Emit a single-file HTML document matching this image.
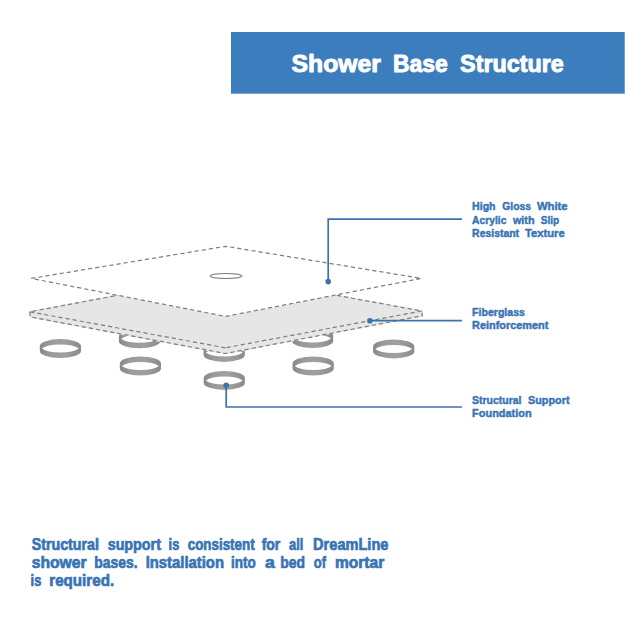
<!DOCTYPE html>
<html><head><meta charset="utf-8"><title>Shower Base Structure</title>
<style>
html,body{margin:0;padding:0;background:#fff;}
body{width:625px;height:625px;overflow:hidden;}
svg{display:block;}
text{font-family:"Liberation Sans",sans-serif;font-weight:bold;}
</style></head><body>
<svg width="625" height="625" viewBox="0 0 625 625">
<defs>
<linearGradient id="rg" x1="0" y1="0" x2="1" y2="0">
<stop offset="0" stop-color="#888888"/><stop offset="0.25" stop-color="#9a9a9a"/><stop offset="0.6" stop-color="#a0a0a0"/><stop offset="1" stop-color="#8a8a8a"/>
</linearGradient>
</defs>
<rect width="625" height="625" fill="#fff"/>
<rect x="231" y="32" width="393" height="61.7" fill="#3c7dbe"/>
<rect x="624" y="32" width="1" height="61.7" fill="#6a9dd2"/>
<text x="291.6" y="72.1" font-size="23" fill="#fff" stroke="#fff" stroke-width="0.9" stroke-linejoin="round" textLength="89.3" lengthAdjust="spacingAndGlyphs">Shower</text>
<text x="393.1" y="72.1" font-size="23" fill="#fff" stroke="#fff" stroke-width="0.9" stroke-linejoin="round" textLength="54.7" lengthAdjust="spacingAndGlyphs">Base</text>
<text x="460.1" y="72.1" font-size="23" fill="#fff" stroke="#fff" stroke-width="0.9" stroke-linejoin="round" textLength="103.6" lengthAdjust="spacingAndGlyphs">Structure</text>
<path d="M118.90,336.20 A20.6,7.0 0 0 1 160.10,336.20 L160.10,341.20 A20.6,7.0 0 0 1 118.90,341.20 Z M121.04,338.70 A20.0,6.5 0 0 1 157.96,338.70 A20.0,6.5 0 0 1 121.04,338.70 Z" fill="url(#rg)" fill-rule="evenodd"/>
<path d="M203.60,349.90 A20.6,7.0 0 0 1 244.80,349.90 L244.80,354.90 A20.6,7.0 0 0 1 203.60,354.90 Z M205.74,352.40 A20.0,6.5 0 0 1 242.66,352.40 A20.0,6.5 0 0 1 205.74,352.40 Z" fill="url(#rg)" fill-rule="evenodd"/>
<path d="M292.00,336.00 A20.6,7.0 0 0 1 333.20,336.00 L333.20,341.00 A20.6,7.0 0 0 1 292.00,341.00 Z M294.14,338.50 A20.0,6.5 0 0 1 331.06,338.50 A20.0,6.5 0 0 1 294.14,338.50 Z" fill="url(#rg)" fill-rule="evenodd"/>
<polygon points="29.8,311.8 225.8,275.0 421.8,311.0 422.4,315.8 225.4,353.5 30.2,316.9" fill="#e6e6e6" stroke="#e6e6e6" stroke-width="1.5" stroke-linejoin="round"/>
<g fill="none" stroke="#7d7d7d" stroke-width="1.2" stroke-dasharray="4.2 3">
<polyline points="225.4,347.8 29.8,311.8 225.8,275.0 421.8,311.0 225.4,347.8"/>
<polyline points="29.8,311.8 30.2,316.9 225.4,353.5 422.4,315.8 421.8,311.0"/>
</g>
<polygon points="31.2,278.4 225.7,246.3 421.2,278.4 225.7,316.4" fill="#fff" stroke="#7d7d7d" stroke-width="1.2" stroke-dasharray="4.2 3"/>
<ellipse cx="226" cy="276" rx="15.8" ry="2.5" fill="#fff" stroke="#808080" stroke-width="1.1"/>
<path d="M39.80,346.10 A20.6,7.0 0 0 1 81.00,346.10 L81.00,351.10 A20.6,7.0 0 0 1 39.80,351.10 Z M41.94,348.60 A20.0,6.5 0 0 1 78.86,348.60 A20.0,6.5 0 0 1 41.94,348.60 Z" fill="url(#rg)" fill-rule="evenodd"/>
<path d="M119.80,363.50 A20.6,7.0 0 0 1 161.00,363.50 L161.00,368.50 A20.6,7.0 0 0 1 119.80,368.50 Z M121.94,366.00 A20.0,6.5 0 0 1 158.86,366.00 A20.0,6.5 0 0 1 121.94,366.00 Z" fill="url(#rg)" fill-rule="evenodd"/>
<path d="M203.70,377.90 A20.6,7.0 0 0 1 244.90,377.90 L244.90,382.90 A20.6,7.0 0 0 1 203.70,382.90 Z M205.84,380.40 A20.0,6.5 0 0 1 242.76,380.40 A20.0,6.5 0 0 1 205.84,380.40 Z" fill="url(#rg)" fill-rule="evenodd"/>
<path d="M292.60,363.50 A20.6,7.0 0 0 1 333.80,363.50 L333.80,368.50 A20.6,7.0 0 0 1 292.60,368.50 Z M294.74,366.00 A20.0,6.5 0 0 1 331.66,366.00 A20.0,6.5 0 0 1 294.74,366.00 Z" fill="url(#rg)" fill-rule="evenodd"/>
<path d="M373.10,346.40 A20.6,7.0 0 0 1 414.30,346.40 L414.30,351.40 A20.6,7.0 0 0 1 373.10,351.40 Z M375.24,348.90 A20.0,6.5 0 0 1 412.16,348.90 A20.0,6.5 0 0 1 375.24,348.90 Z" fill="url(#rg)" fill-rule="evenodd"/>
<g fill="none" stroke="#3a73ae" stroke-width="1.7">
<polyline points="328.2,281.6 328.2,219.1 462,219.1"/>
<polyline points="369.9,320.7 462,320.7"/>
<polyline points="226.2,385.2 226.2,407 462,407"/>
</g>
<circle cx="328.2" cy="281.6" r="2.8" fill="#3a73ae"/>
<circle cx="369.9" cy="320.7" r="2.8" fill="#3a73ae"/>
<circle cx="226.2" cy="385.2" r="2.8" fill="#3a73ae"/>
<text x="472.1" y="210.4" font-size="11" fill="#3874b4" stroke="#3874b4" stroke-width="0.45" stroke-linejoin="round" textLength="23.5" lengthAdjust="spacingAndGlyphs">High</text>
<text x="502.3" y="210.4" font-size="11" fill="#3874b4" stroke="#3874b4" stroke-width="0.45" stroke-linejoin="round" textLength="28.8" lengthAdjust="spacingAndGlyphs">Gloss</text>
<text x="536.9" y="210.4" font-size="11" fill="#3874b4" stroke="#3874b4" stroke-width="0.45" stroke-linejoin="round" textLength="30.7" lengthAdjust="spacingAndGlyphs">White</text>
<text x="472.1" y="223.6" font-size="11" fill="#3874b4" stroke="#3874b4" stroke-width="0.45" stroke-linejoin="round" textLength="34.3" lengthAdjust="spacingAndGlyphs">Acrylic</text>
<text x="512.9" y="223.6" font-size="11" fill="#3874b4" stroke="#3874b4" stroke-width="0.45" stroke-linejoin="round" textLength="21.6" lengthAdjust="spacingAndGlyphs">with</text>
<text x="540.7" y="223.6" font-size="11" fill="#3874b4" stroke="#3874b4" stroke-width="0.45" stroke-linejoin="round" textLength="18.5" lengthAdjust="spacingAndGlyphs">Slip</text>
<text x="472.1" y="236.8" font-size="11" fill="#3874b4" stroke="#3874b4" stroke-width="0.45" stroke-linejoin="round" textLength="47.0" lengthAdjust="spacingAndGlyphs">Resistant</text>
<text x="524.9" y="236.8" font-size="11" fill="#3874b4" stroke="#3874b4" stroke-width="0.45" stroke-linejoin="round" textLength="39.8" lengthAdjust="spacingAndGlyphs">Texture</text>
<text x="472.1" y="315.9" font-size="11" fill="#3874b4" stroke="#3874b4" stroke-width="0.45" stroke-linejoin="round" textLength="52.8" lengthAdjust="spacingAndGlyphs">Fiberglass</text>
<text x="472.1" y="329.3" font-size="11" fill="#3874b4" stroke="#3874b4" stroke-width="0.45" stroke-linejoin="round" textLength="76.3" lengthAdjust="spacingAndGlyphs">Reinforcement</text>
<text x="472.1" y="404.2" font-size="11" fill="#3874b4" stroke="#3874b4" stroke-width="0.45" stroke-linejoin="round" textLength="49.4" lengthAdjust="spacingAndGlyphs">Structural</text>
<text x="528.0" y="404.2" font-size="11" fill="#3874b4" stroke="#3874b4" stroke-width="0.45" stroke-linejoin="round" textLength="41.5" lengthAdjust="spacingAndGlyphs">Support</text>
<text x="472.1" y="417.4" font-size="11" fill="#3874b4" stroke="#3874b4" stroke-width="0.45" stroke-linejoin="round" textLength="59.5" lengthAdjust="spacingAndGlyphs">Foundation</text>
<text x="31.7" y="550.0" font-size="16" fill="#3874b4" stroke="#3874b4" stroke-width="0.7" stroke-linejoin="round" textLength="67.2" lengthAdjust="spacingAndGlyphs">Structural</text>
<text x="107.7" y="550.0" font-size="16" fill="#3874b4" stroke="#3874b4" stroke-width="0.7" stroke-linejoin="round" textLength="53.2" lengthAdjust="spacingAndGlyphs">support</text>
<text x="168.6" y="550.0" font-size="16" fill="#3874b4" stroke="#3874b4" stroke-width="0.7" stroke-linejoin="round" textLength="10.7" lengthAdjust="spacingAndGlyphs">is</text>
<text x="187.7" y="550.0" font-size="16" fill="#3874b4" stroke="#3874b4" stroke-width="0.7" stroke-linejoin="round" textLength="66.9" lengthAdjust="spacingAndGlyphs">consistent</text>
<text x="261.7" y="550.0" font-size="16" fill="#3874b4" stroke="#3874b4" stroke-width="0.7" stroke-linejoin="round" textLength="18.6" lengthAdjust="spacingAndGlyphs">for</text>
<text x="289.1" y="550.0" font-size="16" fill="#3874b4" stroke="#3874b4" stroke-width="0.7" stroke-linejoin="round" textLength="14.2" lengthAdjust="spacingAndGlyphs">all</text>
<text x="313.1" y="550.0" font-size="16" fill="#3874b4" stroke="#3874b4" stroke-width="0.7" stroke-linejoin="round" textLength="75.3" lengthAdjust="spacingAndGlyphs">DreamLine</text>
<text x="31.7" y="568.2" font-size="16" fill="#3874b4" stroke="#3874b4" stroke-width="0.7" stroke-linejoin="round" textLength="55.0" lengthAdjust="spacingAndGlyphs">shower</text>
<text x="94.3" y="568.2" font-size="16" fill="#3874b4" stroke="#3874b4" stroke-width="0.7" stroke-linejoin="round" textLength="43.2" lengthAdjust="spacingAndGlyphs">bases.</text>
<text x="145.7" y="568.2" font-size="16" fill="#3874b4" stroke="#3874b4" stroke-width="0.7" stroke-linejoin="round" textLength="78.3" lengthAdjust="spacingAndGlyphs">Installation</text>
<text x="231.0" y="568.2" font-size="16" fill="#3874b4" stroke="#3874b4" stroke-width="0.7" stroke-linejoin="round" textLength="24.7" lengthAdjust="spacingAndGlyphs">into</text>
<text x="264.9" y="568.2" font-size="16" fill="#3874b4" stroke="#3874b4" stroke-width="0.7" stroke-linejoin="round" textLength="9.8" lengthAdjust="spacingAndGlyphs">a</text>
<text x="280.3" y="568.2" font-size="16" fill="#3874b4" stroke="#3874b4" stroke-width="0.7" stroke-linejoin="round" textLength="24.7" lengthAdjust="spacingAndGlyphs">bed</text>
<text x="313.8" y="568.2" font-size="16" fill="#3874b4" stroke="#3874b4" stroke-width="0.7" stroke-linejoin="round" textLength="12.2" lengthAdjust="spacingAndGlyphs">of</text>
<text x="334.9" y="568.2" font-size="16" fill="#3874b4" stroke="#3874b4" stroke-width="0.7" stroke-linejoin="round" textLength="49.3" lengthAdjust="spacingAndGlyphs">mortar</text>
<text x="30.6" y="585.8" font-size="16" fill="#3874b4" stroke="#3874b4" stroke-width="0.7" stroke-linejoin="round" textLength="10.7" lengthAdjust="spacingAndGlyphs">is</text>
<text x="49.3" y="585.8" font-size="16" fill="#3874b4" stroke="#3874b4" stroke-width="0.7" stroke-linejoin="round" textLength="64.8" lengthAdjust="spacingAndGlyphs">required.</text>
</svg>
</body></html>
